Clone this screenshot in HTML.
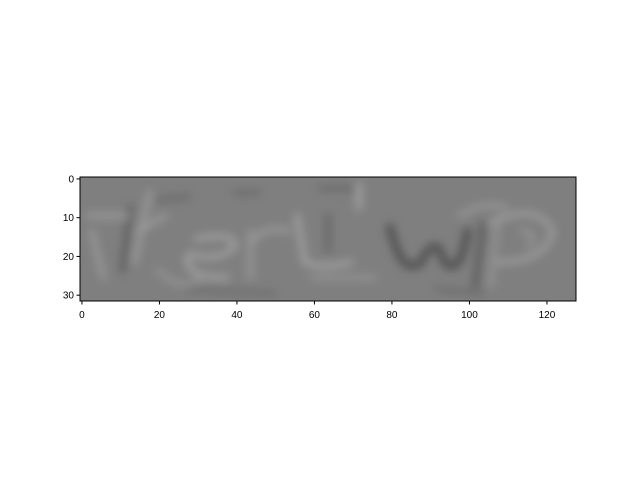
<!DOCTYPE html>
<html><head><meta charset="utf-8"><style>
body{margin:0;background:#fff;}
svg{display:block;font-family:"Liberation Sans","DejaVu Sans",sans-serif;}
</style></head><body>
<svg id="chart" width="640" height="480">
<defs>
<filter id="bl" x="-10%" y="-30%" width="120%" height="160%"><feGaussianBlur stdDeviation="1.2"/></filter>
<clipPath id="cp"><rect x="80" y="177" width="496" height="124"/></clipPath>
</defs>
<g clip-path="url(#cp)">
<rect x="80" y="177" width="496" height="124" fill="#7f7f7f"/>
<g transform="translate(80,177) scale(3.875)" filter="url(#bl)" fill="none" stroke-linecap="round" stroke-linejoin="round">
 <!-- dark strokes -->
 <path d="M13,8 L11,24" stroke="#5e5e5e" stroke-width="1.6"/>
 <path d="M20,6 L28,5 M40,4 L46,4 M62,3 L72,3" stroke="#6a6a6a" stroke-width="1.4"/>
 <path d="M80,13 Q83,26 88,22 Q92,14 94,22 Q98,26 100,14" stroke="#555" stroke-width="2.2"/>
 <path d="M64,10 L64,19" stroke="#666" stroke-width="1.5"/>
 <path d="M104,12 L102,28" stroke="#5c5c5c" stroke-width="1.6"/>
 <path d="M28,29 L50,30 M92,29 L104,30" stroke="#6c6c6c" stroke-width="1.2"/>
 <!-- light strokes -->
 <path d="M2,10 L12,10 M3,14 L6,26" stroke="#9a9a9a" stroke-width="1.4"/>
 <path d="M18,4 L14,22 M15,14 L22,10" stroke="#9c9c9c" stroke-width="1.3"/>
 <path d="M30,16 Q40,14 40,18 Q36,22 28,20 Q26,26 38,26" stroke="#a0a0a0" stroke-width="1.4"/>
 <path d="M44,14 L44,26 M44,17 Q48,12 54,14" stroke="#9a9a9a" stroke-width="1.3"/>
 <path d="M56,10 L58,22 Q62,24 70,22" stroke="#a2a2a2" stroke-width="1.4"/>
 <path d="M72,2 L72,8" stroke="#a4a4a4" stroke-width="1.4"/>
 <path d="M106,12 Q118,6 122,14 Q120,22 108,22" stroke="#9e9e9e" stroke-width="1.3"/>
 <path d="M108,10 L106,28 M114,14 Q118,14 116,18" stroke="#969696" stroke-width="1.2"/>
 <path d="M98,10 Q104,6 110,8" stroke="#999" stroke-width="1.2"/>
 <path d="M20,24 Q26,30 32,26 M60,26 L76,26" stroke="#959595" stroke-width="1.2"/>
</g>
</g>
<rect x="80" y="177" width="496" height="124" fill="none" stroke="#000" stroke-width="1"/>
<g id="xt"></g><g id="yt"></g>
</svg>
<script>
const xTicks=[0,20,40,60,80,100,120];
const yTicks=[0,10,20,30];
const imgW=128, imgH=32;
const L=80,T=177,W=496,H=124;
const sx=v=>L+(v+0.5)*W/imgW;
const sy=v=>T+(v+0.5)*H/imgH;
const ns="http://www.w3.org/2000/svg";
const xt=document.getElementById('xt'), yt=document.getElementById('yt');
xTicks.forEach(v=>{
 const x=sx(v);
 const l=document.createElementNS(ns,'line');
 l.setAttribute('x1',x);l.setAttribute('x2',x);l.setAttribute('y1',T+H);l.setAttribute('y2',T+H+3.5);l.setAttribute('stroke','#000');
 
 
 xt.appendChild(l);
 const t=document.createElementNS(ns,'text');
 t.setAttribute('x',x);t.setAttribute('y',T+H+17);t.setAttribute('text-anchor','middle');t.setAttribute('font-size','10');
 t.textContent=v;
 
 
 xt.appendChild(t);
});
yTicks.forEach(v=>{
 const y=sy(v);
 const l=document.createElementNS(ns,'line');
 l.setAttribute('x1',L-3.5);l.setAttribute('x2',L);l.setAttribute('y1',y);l.setAttribute('y2',y);l.setAttribute('stroke','#000');
 
 
 yt.appendChild(l);
 const t=document.createElementNS(ns,'text');
 t.setAttribute('x',L-6);t.setAttribute('y',y+3.5);t.setAttribute('text-anchor','end');t.setAttribute('font-size','10');
 t.textContent=v;
 
 
 yt.appendChild(t);
});
</script>
</body></html>
